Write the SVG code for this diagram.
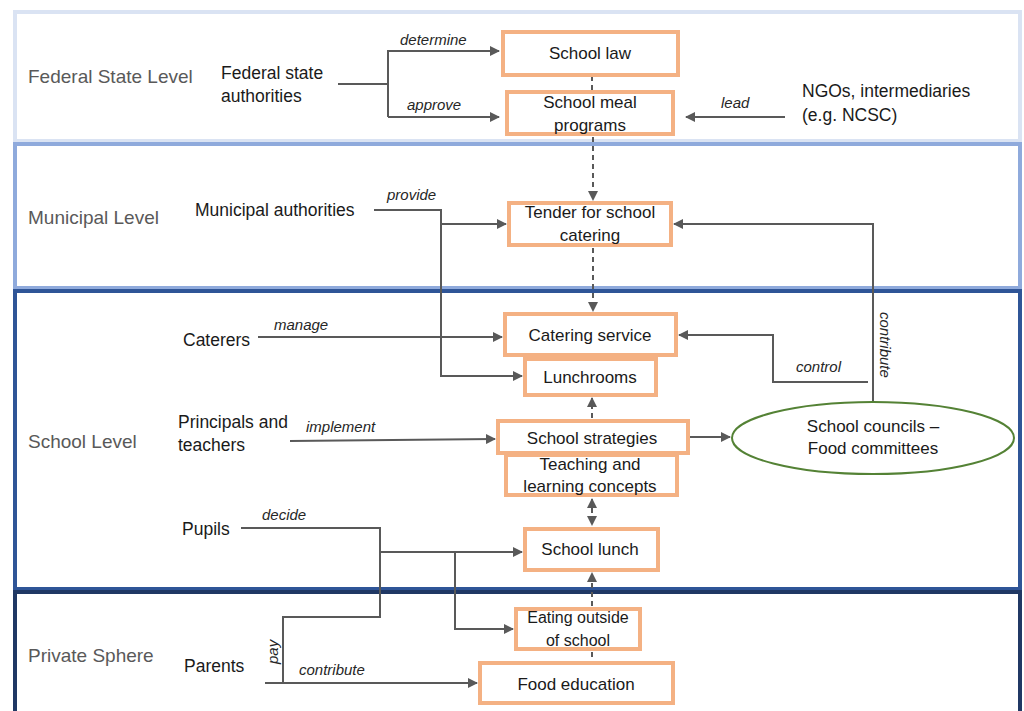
<svg xmlns="http://www.w3.org/2000/svg" width="1024" height="711" viewBox="0 0 1024 711">
<style>
.lvl{font-family:"Liberation Sans",Arial,sans-serif;font-size:19px;fill:#595959}
.act{font-family:"Liberation Sans",Arial,sans-serif;font-size:17.5px;fill:#1a1a1a}
.nt{font-family:"Liberation Sans",Arial,sans-serif;font-size:17px;fill:#1a1a1a;text-anchor:middle}
.nts{font-size:16px}
.lb{font-family:"Liberation Sans",Arial,sans-serif;font-size:15px;font-style:italic;fill:#262626}
.box{fill:#fff;stroke:#f4b183;stroke-width:4}
.ln{fill:none;stroke:#595959;stroke-width:2}
.da{fill:none;stroke:#595959;stroke-width:2;stroke-dasharray:5 4}
</style>
<defs>
<marker id="ar" viewBox="0 0 10 10" refX="9" refY="5" markerWidth="5" markerHeight="5" orient="auto-start-reverse" markerUnits="strokeWidth">
<path d="M0,0 L10,5 L0,10 z" fill="#595959"/>
</marker>
</defs>
<rect width="1024" height="711" fill="#fff"/>
<g id="layers">
<rect x="15" y="12" width="1005" height="129" fill="none" stroke="#dae3f3" stroke-width="4"/>
<rect x="15" y="144" width="1005" height="144" fill="none" stroke="#8faadc" stroke-width="4"/>
<rect x="15" y="291" width="1005" height="298" fill="none" stroke="#2f5597" stroke-width="4"/>
<rect x="15" y="592" width="1005" height="130" fill="none" stroke="#203864" stroke-width="4"/>
<text class="lvl" x="28" y="83">Federal State Level</text>
<text class="lvl" x="28" y="224">Municipal Level</text>
<text class="lvl" x="28" y="448">School Level</text>
<text class="lvl" x="28" y="662">Private Sphere</text>
</g>
<g id="actors">
<text class="act" x="221" y="79">Federal state</text>
<text class="act" x="221" y="102">authorities</text>
<text class="act" x="802" y="97">NGOs, intermediaries</text>
<text class="act" x="802" y="121">(e.g. NCSC)</text>
<text class="act" x="195" y="216">Municipal authorities</text>
<text class="act" x="183" y="346">Caterers</text>
<text class="act" x="178" y="428">Principals and</text>
<text class="act" x="178" y="451">teachers</text>
<text class="act" x="182" y="535">Pupils</text>
<text class="act" x="184" y="672">Parents</text>
</g>
<g id="connectors">
<polyline class="ln" points="338,84 388,84"/>
<polyline class="ln" points="388,117 388,51 499,51" marker-end="url(#ar)"/>
<polyline class="ln" points="388,117 499,117" marker-end="url(#ar)"/>
<line class="ln" x1="785" y1="117" x2="686" y2="117" marker-end="url(#ar)"/>
<line class="da" x1="592" y1="76" x2="592" y2="90"/>
<line class="da" x1="593" y1="137" x2="593" y2="200" marker-end="url(#ar)"/>
<line class="da" x1="593" y1="248" x2="593" y2="311" marker-end="url(#ar)"/>
<polyline class="ln" points="374,210 441,210 441,376 522,376" marker-end="url(#ar)"/>
<line class="ln" x1="441" y1="224" x2="506" y2="224" marker-end="url(#ar)"/>
<line class="ln" x1="258" y1="337" x2="502" y2="337" marker-end="url(#ar)"/>
<line class="ln" x1="290" y1="441" x2="495" y2="439" marker-end="url(#ar)"/>
<line class="ln" x1="690" y1="437" x2="730" y2="437" marker-end="url(#ar)"/>
<polyline class="ln" points="873,402 873,224 674,224" marker-end="url(#ar)"/>
<polyline class="ln" points="868,382 773,382 773,335 679,335" marker-end="url(#ar)"/>
<line class="da" x1="592" y1="418" x2="592" y2="398" marker-end="url(#ar)"/>
<line class="da" x1="592" y1="499" x2="592" y2="525" marker-start="url(#ar)" marker-end="url(#ar)"/>
<line class="da" x1="592" y1="606" x2="592" y2="573" marker-end="url(#ar)"/>
<line class="da" x1="592" y1="652" x2="592" y2="661"/>
<polyline class="ln" points="241,528 380,528 380,617 283,617 283,683"/>
<line class="ln" x1="380" y1="552" x2="522" y2="552" marker-end="url(#ar)"/>
<polyline class="ln" points="455,552 455,629 513,629" marker-end="url(#ar)"/>
<line class="ln" x1="265" y1="683" x2="477" y2="683" marker-end="url(#ar)"/>
<text class="lb" x="400" y="45">determine</text>
<text class="lb" x="407" y="110">approve</text>
<text class="lb" x="721" y="108">lead</text>
<text class="lb" x="387" y="200">provide</text>
<text class="lb" x="274" y="330">manage</text>
<text class="lb" x="306" y="432">implement</text>
<text class="lb" x="796" y="372">control</text>
<text class="lb" x="262" y="520">decide</text>
<text class="lb" x="299" y="675">contribute</text>
<text class="lb" transform="translate(278,664) rotate(-90)">pay</text>
<text class="lb" transform="translate(880,312) rotate(90)">contribute</text>
</g>
<g id="n-school-law"><rect class="box" x="503" y="32" width="175" height="43"/><text class="nt" x="590" y="59">School law</text></g>
<g id="n-meal"><rect class="box" x="507" y="92" width="166" height="42"/><text class="nt" x="590" y="108">School meal</text><text class="nt" x="590" y="131">programs</text></g>
<g id="n-tender"><rect class="box" x="509" y="203" width="162" height="42"/><text class="nt" x="590" y="218">Tender for school</text><text class="nt" x="590" y="241">catering</text></g>
<g id="n-catering"><rect class="box" x="505" y="314" width="171" height="41"/><text class="nt" x="590" y="341">Catering service</text></g>
<g id="n-lunchrooms"><rect class="box" x="525" y="359" width="131" height="36"/><text class="nt" x="590" y="383">Lunchrooms</text></g>
<g id="n-strategies"><rect class="box" x="498" y="421" width="190" height="32"/><text class="nt" x="592" y="444">School strategies</text></g>
<g id="n-teaching"><rect class="box" x="506" y="455" width="171" height="40"/><text class="nt" x="590" y="470">Teaching and</text><text class="nt" x="590" y="492">learning concepts</text></g>
<g id="n-lunch"><rect class="box" x="525" y="529" width="133" height="41"/><text class="nt" x="590" y="555">School lunch</text></g>
<g id="n-eating"><rect class="box" x="516" y="609" width="124" height="40"/><text class="nt nts" x="578" y="623">Eating outside</text><text class="nt nts" x="578" y="646">of school</text></g>
<g id="n-food-edu"><rect class="box" x="480" y="663" width="193" height="40"/><text class="nt" x="576" y="690">Food education</text></g>
<g id="n-councils"><ellipse cx="873" cy="438" rx="141" ry="36" fill="#fff" stroke="#548235" stroke-width="2"/><text class="nt" x="873" y="432">School councils –</text><text class="nt" x="873" y="454">Food committees</text></g>
</svg>
